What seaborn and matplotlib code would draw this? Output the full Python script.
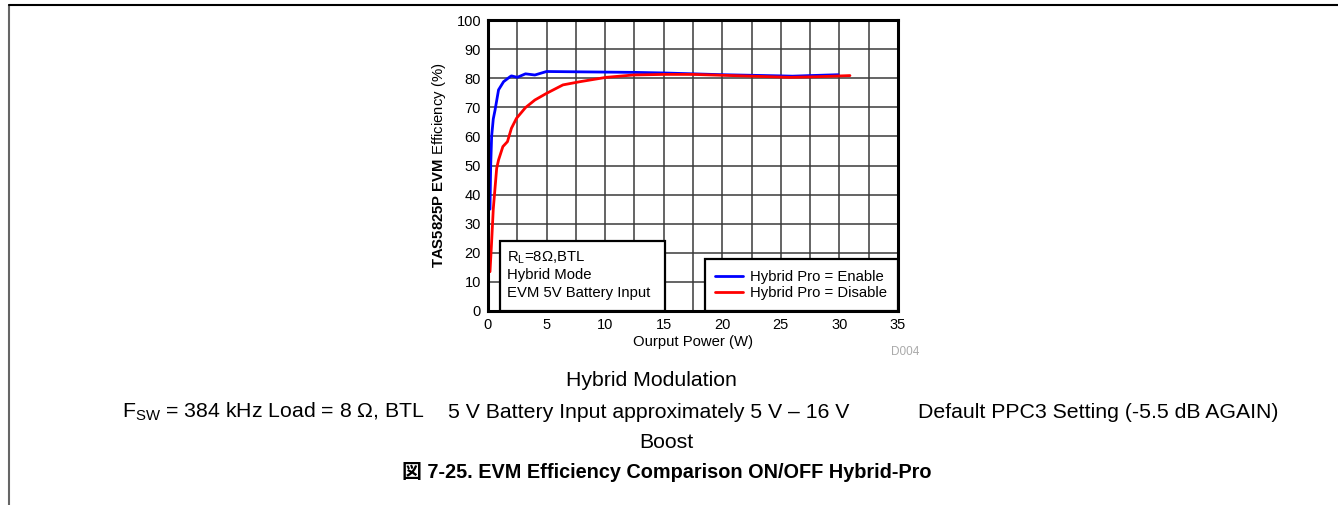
import numpy as np
import pandas as pd
import matplotlib
matplotlib.use("Agg")
import matplotlib.pyplot as plt
from matplotlib.lines import Line2D
from matplotlib.patches import Rectangle
import seaborn as sns

# ---------------- data ----------------
enable_power = [0.17, 0.23, 0.31, 0.45, 0.6, 0.9, 1.33, 1.88, 2.0, 2.5, 3.2, 4.0, 5.0,
                7.5, 10.0, 12.5, 15.0, 17.5, 20.0, 22.5, 25.0, 26.0, 27.5, 29.9]
enable_eff = [35.0, 50.0, 60.0, 66.0, 69.0, 76.0, 78.8, 80.5, 80.8, 80.3, 81.5, 81.1, 82.3,
              82.2, 82.1, 82.0, 81.8, 81.5, 81.2, 81.0, 80.8, 80.7, 80.9, 81.2]

disable_power = [0.17, 0.31, 0.45, 0.74, 0.9, 1.27, 1.66, 2.0, 2.43, 3.2, 4.0, 5.0, 6.4,
                 7.85, 10.1, 12.4, 15.0, 17.5, 20.0, 22.5, 25.8, 28.0, 30.9]
disable_eff = [13.5, 23.8, 35.0, 49.0, 51.9, 56.5, 58.2, 62.8, 66.2, 69.9, 72.5, 74.8, 77.7,
               78.8, 80.3, 81.1, 81.3, 81.3, 81.0, 80.7, 80.3, 80.5, 80.9]

series_names = ["Hybrid Pro = Enable", "Hybrid Pro = Disable"]
series_colors = ["#0000FF", "#FF0000"]
x_ticks = [0, 5, 10, 15, 20, 25, 30, 35]
y_ticks = [0, 10, 20, 30, 40, 50, 60, 70, 80, 90, 100]

df = pd.concat([
    pd.DataFrame({"power": enable_power, "eff": enable_eff, "series": series_names[0]}),
    pd.DataFrame({"power": disable_power, "eff": disable_eff, "series": series_names[1]}),
], ignore_index=True)

# ---------------- style ----------------
sns.set_theme(style="white")
plt.rcParams["font.family"] = ["Liberation Sans", "Noto Sans CJK JP", "DejaVu Sans"]
plt.rcParams["mathtext.fontset"] = "custom"
plt.rcParams["mathtext.rm"] = "Liberation Sans"
plt.rcParams["mathtext.it"] = "Liberation Sans:italic"
plt.rcParams["mathtext.bf"] = "Liberation Sans:bold"
plt.rcParams["text.color"] = "black"
plt.rcParams["axes.labelcolor"] = "black"
plt.rcParams["xtick.color"] = "black"
plt.rcParams["ytick.color"] = "black"

fig = plt.figure(figsize=(13.38, 5.05), dpi=100)
W, H = 1338, 505
ax = fig.add_axes([488 / W, 1 - 311 / H, 410 / W, 291 / H])

sns.lineplot(data=df, x="power", y="eff", hue="series", palette=series_colors,
             hue_order=series_names, linewidth=2.0, ax=ax, legend=False, sort=False,
             estimator=None)

ax.set_xlim(0, 35)
ax.set_ylim(0, 100)
ax.set_xticks(x_ticks)
ax.set_xticks(np.arange(2.5, 35, 5.0), minor=True)
ax.set_yticks(y_ticks)
ax.tick_params(axis="both", which="both", length=0, labelsize=10.5, colors="black", pad=5)
ax.grid(True, which="both", color="#3a3a3a", linewidth=1.1)
ax.set_axisbelow(True)
for sp in ax.spines.values():
    sp.set_linewidth(2.2)
    sp.set_color("black")

ax.set_xlabel("Ourput Power (W)", fontsize=10.7, labelpad=2, color="black")
ax.set_ylabel(r"$\mathbf{TAS5825P\ EVM}$ Efficiency (%)", fontsize=10.7, labelpad=6,
              color="black")

# annotation box
ax.add_patch(Rectangle((0.029, 0.0), 0.403, 0.2416, transform=ax.transAxes,
                       facecolor="white", edgecolor="black", linewidth=1.6, zorder=5))
ann_lines = [r"R$_\mathregular{L}$=8$\Omega$,BTL", "Hybrid Mode", "EVM 5V Battery Input"]
for i, t in enumerate(ann_lines):
    ax.text(0.046, (311 - (258 + i * 17.5)) / 291, t, transform=ax.transAxes,
            fontsize=10.7, va="center", ha="left", zorder=6, color="black")

# legend
handles = [Line2D([0], [0], color=c, lw=2.0) for c in series_colors]
leg = ax.legend(handles, series_names, loc="lower right", bbox_to_anchor=(1.0, 0.0),
                fontsize=10.7, frameon=True, fancybox=False, borderaxespad=0,
                handlelength=1.85, handletextpad=0.5, labelspacing=0.16,
                borderpad=0.72)
leg.get_frame().set_edgecolor("black")
leg.get_frame().set_linewidth(1.6)
leg.get_frame().set_alpha(1)
leg.set_zorder(7)
for t in leg.get_texts():
    t.set_color("black")

# small id
fig.text(919 / W, 1 - 352 / H, "D004", fontsize=8.5, color="#aaaaaa", ha="right", va="center")

# caption texts
fs = 15.3
fig.text(651 / W, 1 - 381 / H, "Hybrid Modulation", fontsize=fs, ha="center", va="center")
fig.text(122 / W, 1 - 412 / H, r"F$_\mathregular{SW}$ = 384 kHz Load = 8 Ω, BTL",
         fontsize=fs, ha="left", va="center")
fig.text(448 / W, 1 - 412 / H, "5 V Battery Input approximately 5 V – 16 V",
         fontsize=fs, ha="left", va="center")
fig.text(918 / W, 1 - 412 / H, "Default PPC3 Setting (-5.5 dB AGAIN)",
         fontsize=fs, ha="left", va="center")
fig.text(666 / W, 1 - 443 / H, "Boost", fontsize=fs, ha="center", va="center")
fig.text(667 / W, 1 - 472 / H, "図 7-25. EVM Efficiency Comparison ON/OFF Hybrid-Pro",
         fontsize=14.3, ha="center", va="center", fontweight="bold")

# page border lines
fig.add_artist(Line2D([8.5 / W, 8.5 / W], [0, 1 - 4.5 / H], color="#666666", lw=1.5,
                      transform=fig.transFigure))
fig.add_artist(Line2D([8.5 / W, 1.0], [1 - 4.5 / H, 1 - 4.5 / H], color="black", lw=1.5,
                      transform=fig.transFigure))

fig.savefig("out.png", dpi=100)
